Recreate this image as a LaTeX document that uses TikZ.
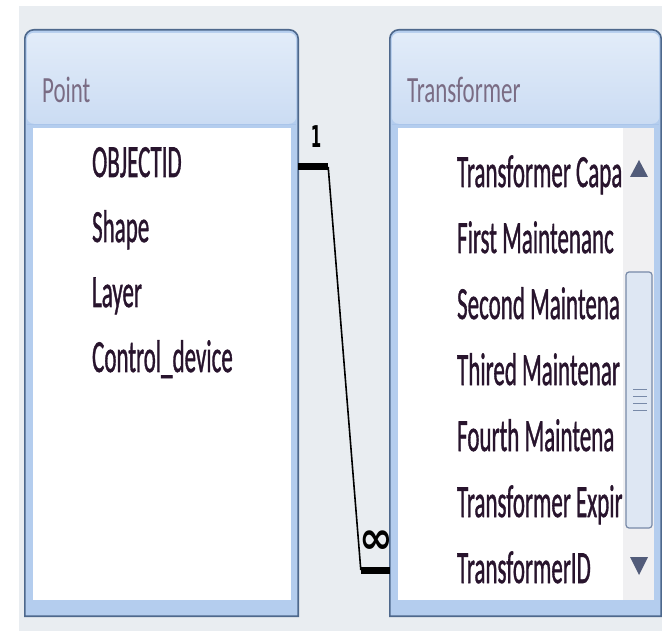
\documentclass[tikz,border=0pt]{standalone}
\usepackage{fontspec}
\newfontfamily\uifont[FakeBold=1.3]{Carlito}
\newfontfamily\titlefont{Carlito}
\newfontfamily\markfont{DejaVu Sans}

\definecolor{bggrey}{RGB}{233,237,241}
\definecolor{rimdark}{RGB}{78,104,140}
\definecolor{rimlight}{RGB}{180,205,238}
\definecolor{bandtop}{RGB}{226,236,249}
\definecolor{bandbot}{RGB}{203,220,243}
\definecolor{bandline}{RGB}{170,197,234}
\definecolor{titletext}{RGB}{122,108,132}
\definecolor{fieldtext}{RGB}{40,20,45}
\definecolor{trackgrey}{RGB}{240,240,242}
\definecolor{thumbfill}{RGB}{222,231,243}
\definecolor{thumbrim}{RGB}{120,138,168}
\definecolor{arrowblue}{RGB}{82,92,122}

\tikzset{
  field/.style={anchor=base west, inner sep=0pt, xscale=0.5, text=fieldtext,
    font=\uifont\fontsize{46}{46}\selectfont},
  tabletitle/.style={anchor=base west, inner sep=0pt, xscale=0.62, text=titletext,
    font=\titlefont\fontsize{37}{37}\selectfont},
  tableframe/.style={inner sep=0pt, minimum height=586pt},
  keybar/.style={line width=7pt},
  relline/.style={line width=1.6pt},
}

\begin{document}
\begin{tikzpicture}[x=1pt,y=-1pt]
        \useasboundingbox (0,0) rectangle (662,631);
        \fill[white] (0,0) rectangle (662,631);
        \fill[bggrey] (19,6) rectangle (662,631);

        % table frames
        \node[tableframe,minimum width=273pt] (point) at (161.5,323) {};
        \node[tableframe,minimum width=271pt] (transformer) at (525.5,323) {};

        \foreach \t in {point,transformer} {
          \fill[rimlight] (\t.south west) -- ([yshift=-9pt]\t.north west) arc[start angle=180,end angle=90,radius=9pt]
            -- ([xshift=-9pt]\t.north east) arc[start angle=90,end angle=0,radius=9pt] -- (\t.south east) -- cycle;
          \shade[top color=bandtop,bottom color=bandbot,rounded corners=7pt]
            ([xshift=2pt,yshift=-3pt]\t.north west) rectangle ([xshift=-2pt,yshift=-94pt]\t.north east);
          \draw[bandline,line width=1.2pt] ([xshift=2pt,yshift=-95pt]\t.north west) -- ([xshift=-2pt,yshift=-95pt]\t.north east);
          \fill[white] ([xshift=8pt,yshift=-98pt]\t.north west) rectangle ([xshift=-7pt,yshift=16pt]\t.south east);
          \draw[rimdark,line width=1.6pt] (\t.south west) -- ([yshift=-9pt]\t.north west) arc[start angle=180,end angle=90,radius=9pt]
            -- ([xshift=-9pt]\t.north east) arc[start angle=90,end angle=0,radius=9pt] -- (\t.south east) -- cycle;
        }

        \node[tabletitle] (pointtitle) at (42,103) {Point};
        \node[tabletitle] (transformertitle) at (407,103) {Transformer};

        % fields
        \foreach \fname/\ftext [count=\i] in {objectid/OBJECTID,shape/Shape,layer/Layer,ctrl/Control\_device}
          \node[field] (\fname) at (92,{177+65*(\i-1)}) {\ftext};

        % scroll bar
        \fill[trackgrey] (623,128) rectangle (654,600);
        \fill[arrowblue] (630,177) -- (648,177) -- (639,160) -- cycle;
        \fill[arrowblue] (630,557) -- (648,557) -- (639,575) -- cycle;
        \draw[thumbrim,fill=thumbfill,line width=1.2pt,rounded corners=3pt] (626,272) rectangle (652,528);
        \foreach \gy in {389,396,403,410}
          \draw[thumbrim,line width=1pt] (633,\gy) -- (647,\gy);

        \begin{scope}
          \clip (398,128) rectangle (622,600);
          \foreach \fname/\ftext [count=\i] in {capa/Transformer Capa,first/First Maintenanc,second/Second Maintena,
              third/Thired Maintenar,fourth/Fourth Maintena,expiry/Transformer Expir,transformerid/TransformerID}
            \node[field] (\fname) at (457,{187+66*(\i-1)}) {\ftext};
        \end{scope}

        % relationship
        \coordinate (onekey) at ([yshift=10pt]objectid.base -| point.east);
        \coordinate (manykey) at ([yshift=13pt]transformerid.base -| transformer.west);
        \draw[keybar] (onekey) -- ++(30,0) coordinate (onebend);
        \draw[keybar] (manykey) -- ++(-29,0) coordinate (manybend);
        \draw[relline] (onebend) -- (manybend);
        \node[font=\markfont\bfseries\fontsize{30}{30}\selectfont,xscale=0.5,inner sep=0pt] (one) at (316,137) {1};
        \node[font=\markfont\bfseries\fontsize{30}{30}\selectfont,xscale=1.35,yscale=1.5,inner sep=0pt] (many) at (376,542) {∞};

    \end{tikzpicture}
\end{document}
